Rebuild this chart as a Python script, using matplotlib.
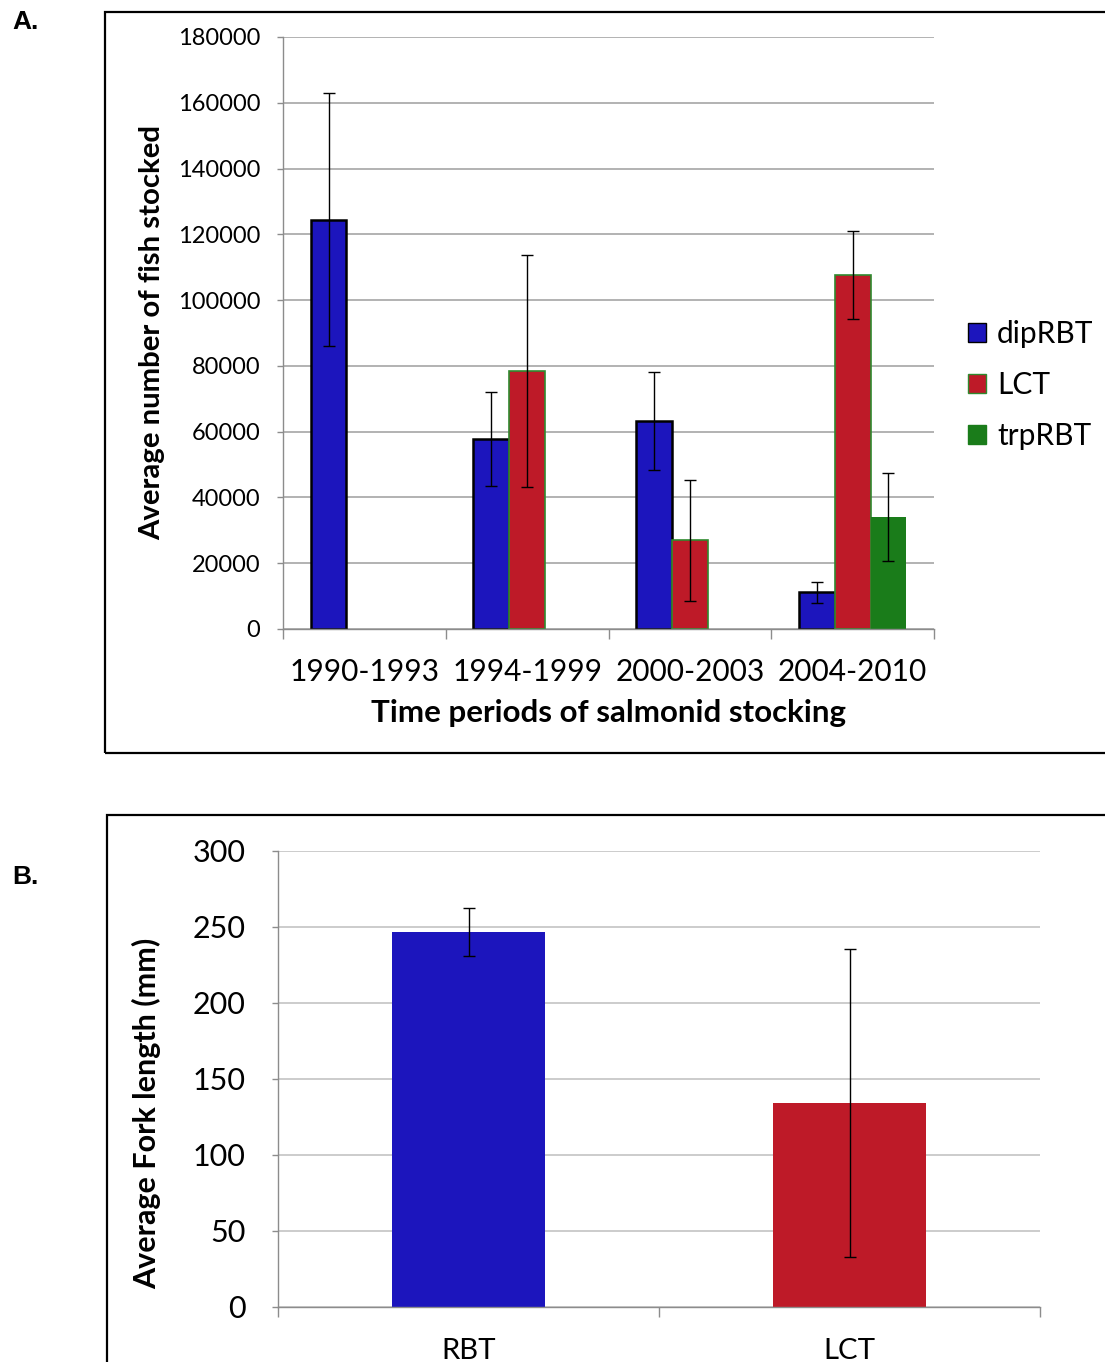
import matplotlib
matplotlib.use("Agg")
import matplotlib.pyplot as plt
from matplotlib.patches import Rectangle
from matplotlib.ticker import FixedLocator, NullFormatter
import numpy as np

plt.rcParams["font.family"] = ["Lato", "DejaVu Sans"]

# Panel A: stocking by period
periods = ["1990-1993", "1994-1999", "2000-2003", "2004-2010"]
series_names = ["dipRBT", "LCT", "trpRBT"]
dip_mean = [124500, 57800, 63200, 11200]
dip_err = [38600, 14200, 14800, 3200]
lct_mean = [np.nan, 78400, 27000, 107600]
lct_err = [np.nan, 35200, 18400, 13400]
trp_mean = [np.nan, np.nan, np.nan, 34000]
trp_err = [np.nan, np.nan, np.nan, 13400]

# Panel B: fork length
species = ["RBT", "LCT"]
fork_mean = [246.7, 134.2]
fork_err = [15.8, 101.0]

BLUE = "#1c15bd"
RED = "#be1a28"
GREEN = "#1a7c1a"
GRID = "#a6a6a6"
AXIS = "#8c8c8c"

fig = plt.figure(figsize=(11.05, 13.62), dpi=100)

# panel frames
fig.patches.append(Rectangle((105 / 1105, 1 - 753 / 1362), 1.0, 741 / 1362,
                             transform=fig.transFigure, fill=False,
                             edgecolor="black", linewidth=1.6))
fig.patches.append(Rectangle((107 / 1105, -0.1), 1.0, 1 - 815 / 1362 + 0.1,
                             transform=fig.transFigure, fill=False,
                             edgecolor="black", linewidth=1.6))
fig.text(12 / 1105, 1 - 22 / 1362, "A.", fontsize=19, fontweight="bold",
         family=["Liberation Sans", "DejaVu Sans"], ha="left", va="center")
fig.text(12 / 1105, 1 - 877 / 1362, "B.", fontsize=19, fontweight="bold",
         family=["Liberation Sans", "DejaVu Sans"], ha="left", va="center")


def style_axes(ax, n, grid_color):
    for side in ["top", "right"]:
        ax.spines[side].set_visible(False)
    for side in ["left", "bottom"]:
        ax.spines[side].set_color(AXIS)
        ax.spines[side].set_linewidth(1.0)
    ax.yaxis.grid(True, color=grid_color, linewidth=1.2)
    ax.set_axisbelow(True)
    ax.set_xlim(-0.5, n - 0.5)
    ax.set_xticks(range(n))
    ax.tick_params(axis="x", which="major", length=0)
    ax.xaxis.set_minor_locator(FixedLocator(np.arange(-0.5, n, 1.0)))
    ax.xaxis.set_minor_formatter(NullFormatter())
    ax.tick_params(axis="x", which="minor", length=7, color=AXIS, width=1.0)
    ax.tick_params(axis="y", length=4.5, color=AXIS, width=1.0)


# ---- panel A ----
axA = fig.add_axes([283 / 1105, 1 - 629 / 1362, 651 / 1105, 592 / 1362])
x = np.arange(len(periods))
w = 0.22
ekw = dict(ecolor="black", elinewidth=1.0, capsize=4, capthick=1.0)

for vals, errs, off, color, edge, lw, name in [
    (dip_mean, dip_err, -w, BLUE, "black", 1.8, series_names[0]),
    (lct_mean, lct_err, 0.0, RED, "#2f8a2f", 1.2, series_names[1]),
    (trp_mean, trp_err, w, GREEN, GREEN, 0.0, series_names[2]),
]:
    vals = np.array(vals, dtype=float)
    errs = np.array(errs, dtype=float)
    ok = ~np.isnan(vals)
    axA.bar(x[ok] + off, vals[ok], width=w, color=color, edgecolor=edge,
            linewidth=lw, label=name, zorder=2)
    axA.errorbar(x[ok] + off, vals[ok], yerr=errs[ok], fmt="none", zorder=3, **ekw)

style_axes(axA, len(periods), GRID)
axA.set_ylim(0, 180000)
axA.set_yticks(np.arange(0, 180001, 20000))
axA.set_yticklabels([str(v) for v in range(0, 180001, 20000)], fontsize=17)
axA.tick_params(axis="y", pad=12)
axA.set_xticklabels(periods, fontsize=21.5)
axA.tick_params(axis="x", which="major", pad=21)
axA.set_xlabel("Time periods of salmonid stocking", fontsize=22.5,
               fontweight="bold", va="center")
axA.xaxis.set_label_coords(0.5, -0.142)
axA.set_ylabel("Average number of fish stocked", fontsize=21.2,
               fontweight="bold", va="center")
axA.yaxis.set_label_coords(-0.201, 0.5)

leg = axA.legend(loc="center left", bbox_to_anchor=(956 / 1105, 1 - 385 / 1362),
                 bbox_transform=fig.transFigure, frameon=False, fontsize=21.5,
                 handlelength=0.62, handleheight=0.62, handletextpad=0.35,
                 labelspacing=0.76, borderaxespad=0)
for h in leg.legend_handles:
    h.set_linewidth(1.0)

# ---- panel B ----
axB = fig.add_axes([278 / 1105, 1 - 1307 / 1362, 762 / 1105, 456 / 1362])
xb = np.arange(len(species))
axB.bar(xb, fork_mean, width=0.40, color=[BLUE, RED], zorder=2)
axB.errorbar(xb, fork_mean, yerr=fork_err, fmt="none", zorder=3, **ekw)
style_axes(axB, len(species), "#c4c4c4")
axB.set_ylim(0, 300)
axB.set_yticks(np.arange(0, 301, 50))
axB.set_yticklabels([str(v) for v in range(0, 301, 50)], fontsize=22)
axB.tick_params(axis="y", pad=19)
axB.set_xticklabels(species, fontsize=21.2)
axB.tick_params(axis="x", which="major", pad=22)
axB.set_ylabel("Average Fork length (mm)", fontsize=22, fontweight="bold",
               va="center")
axB.yaxis.set_label_coords(-0.172, 0.425)

fig.savefig("out.png", dpi=100)
